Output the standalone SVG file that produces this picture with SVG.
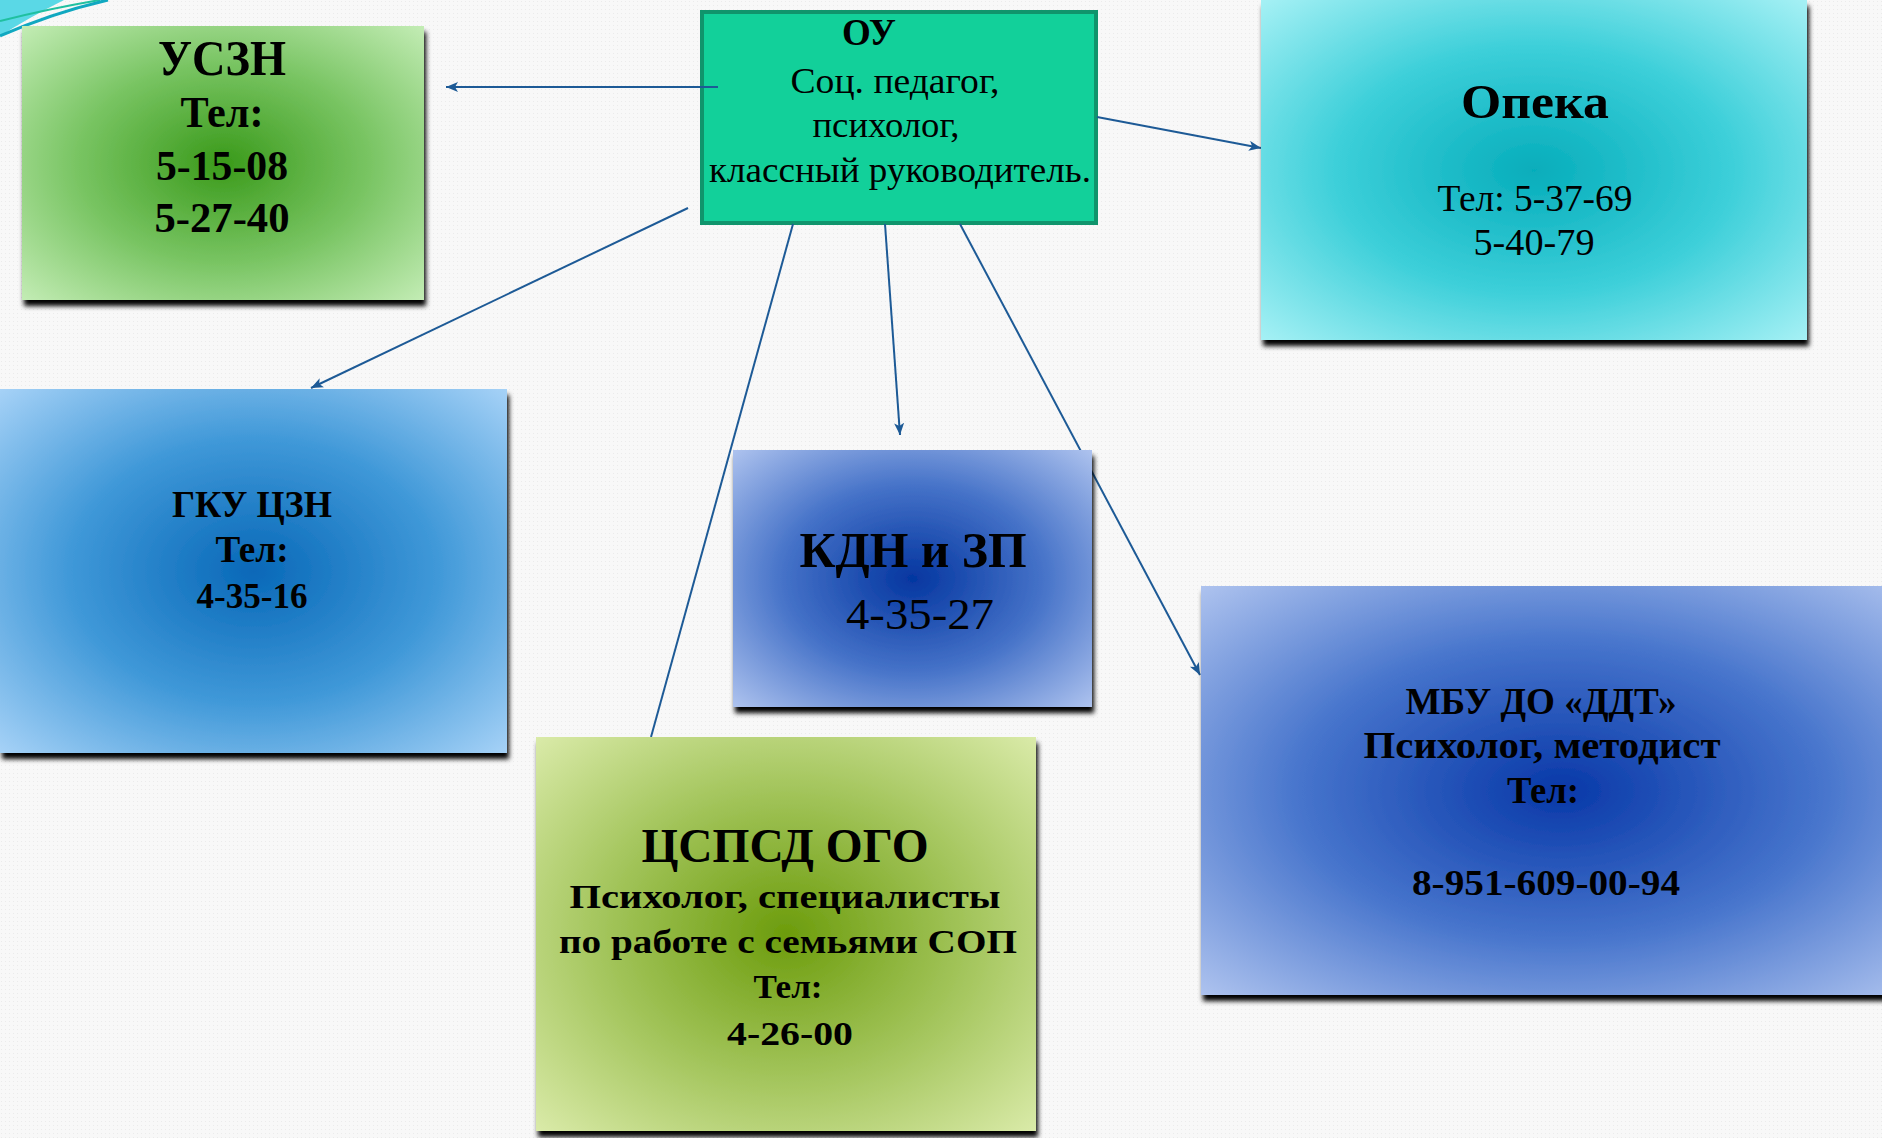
<svg xmlns="http://www.w3.org/2000/svg" width="1882" height="1138" viewBox="0 0 1882 1138">
<defs>
<pattern id="dots" width="4" height="4" patternUnits="userSpaceOnUse">
<rect width="4" height="4" fill="#f8f8f8"/>
<rect x="1" y="1" width="1" height="1" fill="#ebebeb"/>
</pattern>
<radialGradient id="gUszn" cx="0.5" cy="0.5" r="0.72">
<stop offset="0" stop-color="#3a9a1a"/><stop offset="0.5" stop-color="#78c462"/><stop offset="1" stop-color="#c6eeb8"/>
</radialGradient>
<radialGradient id="gOpeka" cx="0.5" cy="0.5" r="0.72">
<stop offset="0" stop-color="#06adbb"/><stop offset="0.5" stop-color="#3ccfd9"/><stop offset="1" stop-color="#aaf2f6"/>
</radialGradient>
<radialGradient id="gGku" cx="0.5" cy="0.5" r="0.72">
<stop offset="0" stop-color="#0868b8"/><stop offset="0.5" stop-color="#3f98d8"/><stop offset="1" stop-color="#aad4f8"/>
</radialGradient>
<radialGradient id="gKdn" cx="0.5" cy="0.5" r="0.72">
<stop offset="0" stop-color="#0436a0"/><stop offset="0.5" stop-color="#4572c8"/><stop offset="1" stop-color="#b2c6f0"/>
</radialGradient>
<radialGradient id="gCspsd" cx="0.5" cy="0.5" r="0.72">
<stop offset="0" stop-color="#6c9c0c"/><stop offset="0.5" stop-color="#a2c45a"/><stop offset="1" stop-color="#dcecac"/>
</radialGradient>
<radialGradient id="gMbu" cx="0.5" cy="0.5" r="0.72">
<stop offset="0" stop-color="#0838a8"/><stop offset="0.5" stop-color="#4674cc"/><stop offset="1" stop-color="#b2c6f0"/>
</radialGradient>
<filter id="shadow" x="-5%" y="-5%" width="112%" height="115%">
<feDropShadow dx="2" dy="6" stdDeviation="2.5" flood-color="#000" flood-opacity="1"/>
</filter>
<marker id="arrow" markerUnits="userSpaceOnUse" markerWidth="14" markerHeight="12" refX="12" refY="5" orient="auto">
<path d="M0,0 L12,5 L0,10 L3,5 Z" fill="#1d5a96"/>
</marker>
</defs>
<style>
.t{font-family:"Liberation Serif","DejaVu Serif",serif;fill:#000;text-anchor:middle}
.b{font-weight:bold}
.conn{stroke:#1d5a96;stroke-width:2;fill:none}
.box{filter:url(#shadow)}
</style>

<rect width="1882" height="1138" fill="url(#dots)"/>
<g id="decor">
<path d="M0,0 L64,0 Q30,17 0,36 Z" fill="#5ad8e6"/>
<path d="M0,21 Q52,8 100,0" stroke="#20c0a0" stroke-width="2" fill="none"/>
<path d="M0,36 Q52,13 108,0" stroke="#10a8c0" stroke-width="3" fill="none"/>
</g>

<g id="node-ou">
<rect x="702" y="12" width="394" height="211" fill="#12d09a" stroke="#10946c" stroke-width="4"/>
<text class="t b" x="869" y="45" font-size="37">ОУ</text>
<text class="t" x="895" y="93" font-size="36" textLength="209" lengthAdjust="spacingAndGlyphs">Соц. педагог,</text>
<text class="t" x="886" y="137" font-size="36" textLength="147" lengthAdjust="spacingAndGlyphs">психолог,</text>
<text class="t" x="900" y="182" font-size="36" textLength="382" lengthAdjust="spacingAndGlyphs">классный руководитель.</text>
</g>

<g id="connectors">
<line class="conn" x1="718" y1="87" x2="446" y2="87" marker-end="url(#arrow)"/>
<line class="conn" x1="688" y1="208" x2="311" y2="388" marker-end="url(#arrow)"/>
<line class="conn" x1="1097" y1="117" x2="1261" y2="148" marker-end="url(#arrow)"/>
<line class="conn" x1="885" y1="224" x2="900" y2="435" marker-end="url(#arrow)"/>
<line class="conn" x1="793" y1="224" x2="651" y2="737"/>
<line class="conn" x1="960" y1="224" x2="1200" y2="675" marker-end="url(#arrow)"/>
</g>

<g id="node-uszn">
<rect class="box" x="22" y="26" width="402" height="274" fill="url(#gUszn)"/>
<text class="t b" x="222" y="75" font-size="50" textLength="128" lengthAdjust="spacingAndGlyphs">УСЗН</text>
<text class="t b" x="222" y="127" font-size="44" textLength="83" lengthAdjust="spacingAndGlyphs">Тел:</text>
<text class="t b" x="222" y="180" font-size="42" textLength="132" lengthAdjust="spacingAndGlyphs">5-15-08</text>
<text class="t b" x="222" y="232" font-size="42" textLength="135" lengthAdjust="spacingAndGlyphs">5-27-40</text>
</g>

<g id="node-opeka">
<rect class="box" x="1261" y="0" width="546" height="340" fill="url(#gOpeka)"/>
<text class="t b" x="1535" y="118" font-size="48" textLength="148" lengthAdjust="spacingAndGlyphs">Опека</text>
<text class="t" x="1535" y="211" font-size="38" textLength="195" lengthAdjust="spacingAndGlyphs">Тел: 5-37-69</text>
<text class="t" x="1534" y="255" font-size="38" textLength="121" lengthAdjust="spacingAndGlyphs">5-40-79</text>
</g>

<g id="node-gku">
<rect class="box" x="0" y="389" width="507" height="364" fill="url(#gGku)"/>
<text class="t b" x="252" y="517" font-size="38" textLength="160" lengthAdjust="spacingAndGlyphs">ГКУ ЦЗН</text>
<text class="t b" x="252" y="562" font-size="37" textLength="73" lengthAdjust="spacingAndGlyphs">Тел:</text>
<text class="t b" x="252" y="608" font-size="36" textLength="111" lengthAdjust="spacingAndGlyphs">4-35-16</text>
</g>

<g id="node-kdn">
<rect class="box" x="733" y="450" width="359" height="257" fill="url(#gKdn)"/>
<text class="t b" x="913" y="567" font-size="50" textLength="227" lengthAdjust="spacingAndGlyphs">КДН и ЗП</text>
<text class="t" x="920" y="629" font-size="44" textLength="148" lengthAdjust="spacingAndGlyphs">4-35-27</text>
</g>

<g id="node-cspsd">
<rect class="box" x="536" y="737" width="500" height="394" fill="url(#gCspsd)"/>
<text class="t b" x="785" y="862" font-size="48" textLength="287" lengthAdjust="spacingAndGlyphs">ЦСПСД ОГО</text>
<text class="t b" x="785" y="908" font-size="34" textLength="431" lengthAdjust="spacingAndGlyphs">Психолог, специалисты</text>
<text class="t b" x="788" y="953" font-size="34" textLength="458" lengthAdjust="spacingAndGlyphs">по работе с семьями СОП</text>
<text class="t b" x="788" y="998" font-size="34" textLength="69" lengthAdjust="spacingAndGlyphs">Тел:</text>
<text class="t b" x="790" y="1045" font-size="34" textLength="126" lengthAdjust="spacingAndGlyphs">4-26-00</text>
</g>

<g id="node-mbu">
<rect class="box" x="1201" y="586" width="720" height="409" fill="url(#gMbu)"/>
<text class="t b" x="1541" y="714" font-size="38" textLength="271" lengthAdjust="spacingAndGlyphs">МБУ ДО «ДДТ»</text>
<text class="t b" x="1542" y="758" font-size="38" textLength="357" lengthAdjust="spacingAndGlyphs">Психолог, методист</text>
<text class="t b" x="1543" y="803" font-size="38" textLength="72" lengthAdjust="spacingAndGlyphs">Тел:</text>
<text class="t b" x="1546" y="895" font-size="36" textLength="268" lengthAdjust="spacingAndGlyphs">8-951-609-00-94</text>
</g>
</svg>
